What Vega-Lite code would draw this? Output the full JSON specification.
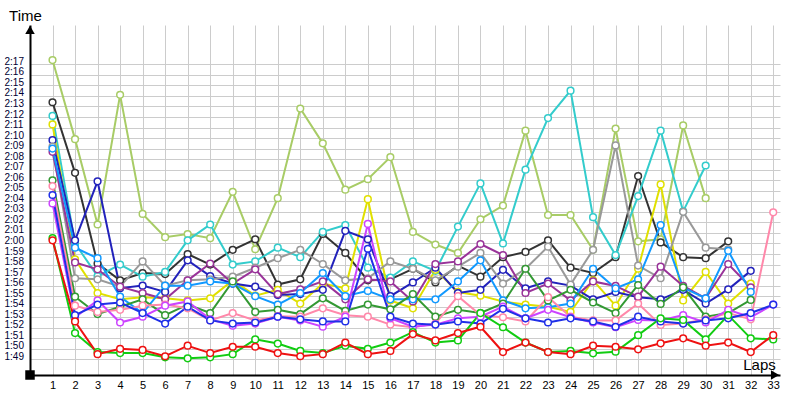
{
  "$schema": "https://vega.github.io/schema/vega-lite/v6.json",
  "width": 750,
  "height": 350,
  "autosize": {"type": "none"},
  "padding": {"left": 30, "top": 25, "right": 20, "bottom": 25},
  "background": "white",
  "config": {"view": {"stroke": null}, "font": "Liberation Sans"},
  "resolve": {"axis": {"x": "independent", "y": "independent"}},
  "datasets": {
    "laps": [
      {"s":"lg","l":1,"t":137.4},{"s":"lg","l":2,"t":129.9},{"s":"lg","l":3,"t":121.8},{"s":"lg","l":4,"t":134.1},{"s":"lg","l":5,"t":122.8},{"s":"lg","l":6,"t":120.6},{"s":"lg","l":7,"t":120.9},{"s":"lg","l":8,"t":120.5},{"s":"lg","l":9,"t":124.9},{"s":"lg","l":10,"t":119.45},{"s":"lg","l":11,"t":124.3},{"s":"lg","l":12,"t":132.8},{"s":"lg","l":13,"t":129.5},{"s":"lg","l":14,"t":125.1},{"s":"lg","l":15,"t":126.1},{"s":"lg","l":16,"t":128.2},{"s":"lg","l":17,"t":121.1},{"s":"lg","l":18,"t":119.9},{"s":"lg","l":19,"t":119.1},{"s":"lg","l":20,"t":122.3},{"s":"lg","l":21,"t":123.6},{"s":"lg","l":22,"t":130.7},{"s":"lg","l":23,"t":122.7},{"s":"lg","l":24,"t":122.7},{"s":"lg","l":25,"t":119.4},{"s":"lg","l":26,"t":130.9},{"s":"lg","l":27,"t":120.2},{"s":"lg","l":28,"t":120.4},{"s":"lg","l":29,"t":131.2},{"s":"lg","l":30,"t":124.3},
      {"s":"bk","l":1,"t":133.4},{"s":"bk","l":2,"t":126.7},{"s":"bk","l":3,"t":118.1},{"s":"bk","l":4,"t":116.5},{"s":"bk","l":5,"t":117.2},{"s":"bk","l":6,"t":117.1},{"s":"bk","l":7,"t":119.0},{"s":"bk","l":8,"t":118.0},{"s":"bk","l":9,"t":119.4},{"s":"bk","l":10,"t":120.4},{"s":"bk","l":11,"t":116.1},{"s":"bk","l":12,"t":116.6},{"s":"bk","l":13,"t":120.9},{"s":"bk","l":14,"t":119.1},{"s":"bk","l":15,"t":116.5},{"s":"bk","l":16,"t":116.6},{"s":"bk","l":17,"t":117.6},{"s":"bk","l":18,"t":116.3},{"s":"bk","l":19,"t":117.9},{"s":"bk","l":20,"t":116.85},{"s":"bk","l":21,"t":118.7},{"s":"bk","l":22,"t":119.2},{"s":"bk","l":23,"t":120.3},{"s":"bk","l":24,"t":117.7},{"s":"bk","l":25,"t":117.2},{"s":"bk","l":26,"t":118.7},{"s":"bk","l":27,"t":126.4},{"s":"bk","l":28,"t":120.1},{"s":"bk","l":29,"t":118.7},{"s":"bk","l":30,"t":118.6},{"s":"bk","l":31,"t":120.2},
      {"s":"cy","l":1,"t":132.1},{"s":"cy","l":2,"t":120.0},{"s":"cy","l":3,"t":116.9},{"s":"cy","l":4,"t":118.0},{"s":"cy","l":5,"t":116.85},{"s":"cy","l":6,"t":117.3},{"s":"cy","l":7,"t":120.3},{"s":"cy","l":8,"t":121.8},{"s":"cy","l":9,"t":118.0},{"s":"cy","l":10,"t":118.3},{"s":"cy","l":11,"t":119.6},{"s":"cy","l":12,"t":118.7},{"s":"cy","l":13,"t":121.1},{"s":"cy","l":14,"t":121.75},{"s":"cy","l":15,"t":117.7},{"s":"cy","l":16,"t":116.75},{"s":"cy","l":17,"t":118.3},{"s":"cy","l":18,"t":117.4},{"s":"cy","l":19,"t":121.6},{"s":"cy","l":20,"t":125.7},{"s":"cy","l":21,"t":120.0},{"s":"cy","l":22,"t":127.0},{"s":"cy","l":23,"t":131.9},{"s":"cy","l":24,"t":134.5},{"s":"cy","l":25,"t":122.5},{"s":"cy","l":26,"t":118.9},{"s":"cy","l":27,"t":124.5},{"s":"cy","l":28,"t":130.7},{"s":"cy","l":29,"t":123.05},{"s":"cy","l":30,"t":127.4},
      {"s":"ye","l":1,"t":131.3},{"s":"ye","l":2,"t":118.5},{"s":"ye","l":3,"t":115.3},{"s":"ye","l":4,"t":114.7},{"s":"ye","l":5,"t":114.9},{"s":"ye","l":6,"t":114.8},{"s":"ye","l":7,"t":114.6},{"s":"ye","l":8,"t":114.8},{"s":"ye","l":9,"t":116.5},{"s":"ye","l":10,"t":115.05},{"s":"ye","l":11,"t":115.6},{"s":"ye","l":12,"t":114.3},{"s":"ye","l":13,"t":116.2},{"s":"ye","l":14,"t":115.75},{"s":"ye","l":15,"t":124.2},{"s":"ye","l":16,"t":114.6},{"s":"ye","l":17,"t":113.85},{"s":"ye","l":18,"t":117.5},{"s":"ye","l":19,"t":115.4},{"s":"ye","l":20,"t":115.05},{"s":"ye","l":21,"t":114.5},{"s":"ye","l":22,"t":114.2},{"s":"ye","l":23,"t":114.0},{"s":"ye","l":24,"t":113.5},{"s":"ye","l":25,"t":116.5},{"s":"ye","l":26,"t":114.1},{"s":"ye","l":27,"t":117.6},{"s":"ye","l":28,"t":125.6},{"s":"ye","l":29,"t":114.6},{"s":"ye","l":30,"t":117.3},{"s":"ye","l":31,"t":114.3},{"s":"ye","l":32,"t":116.2},
      {"s":"db","l":1,"t":129.8},{"s":"db","l":2,"t":120.3},{"s":"db","l":3,"t":125.9},{"s":"db","l":4,"t":115.75},{"s":"db","l":5,"t":116.0},{"s":"db","l":6,"t":115.4},{"s":"db","l":7,"t":118.4},{"s":"db","l":8,"t":116.9},{"s":"db","l":9,"t":116.2},{"s":"db","l":10,"t":115.9},{"s":"db","l":11,"t":115.1},{"s":"db","l":12,"t":115.2},{"s":"db","l":13,"t":115.6},{"s":"db","l":14,"t":121.2},{"s":"db","l":15,"t":120.4},{"s":"db","l":16,"t":115.0},{"s":"db","l":17,"t":116.3},{"s":"db","l":18,"t":117.7},{"s":"db","l":19,"t":115.3},{"s":"db","l":20,"t":115.6},{"s":"db","l":21,"t":117.5},{"s":"db","l":22,"t":115.75},{"s":"db","l":23,"t":116.4},{"s":"db","l":24,"t":116.0},{"s":"db","l":25,"t":114.7},{"s":"db","l":26,"t":115.4},{"s":"db","l":27,"t":114.9},{"s":"db","l":28,"t":114.7},{"s":"db","l":29,"t":115.6},{"s":"db","l":30,"t":114.3},{"s":"db","l":31,"t":115.65},{"s":"db","l":32,"t":117.4},
      {"s":"gy","l":1,"t":129.2},{"s":"gy","l":2,"t":116.7},{"s":"gy","l":3,"t":116.6},{"s":"gy","l":4,"t":115.9},{"s":"gy","l":5,"t":118.3},{"s":"gy","l":6,"t":116.0},{"s":"gy","l":7,"t":116.5},{"s":"gy","l":8,"t":116.6},{"s":"gy","l":9,"t":116.85},{"s":"gy","l":10,"t":117.7},{"s":"gy","l":11,"t":118.6},{"s":"gy","l":12,"t":119.4},{"s":"gy","l":13,"t":118.05},{"s":"gy","l":14,"t":116.5},{"s":"gy","l":15,"t":116.7},{"s":"gy","l":16,"t":118.3},{"s":"gy","l":17,"t":117.6},{"s":"gy","l":18,"t":116.5},{"s":"gy","l":19,"t":117.8},{"s":"gy","l":20,"t":119.1},{"s":"gy","l":21,"t":116.2},{"s":"gy","l":22,"t":117.6},{"s":"gy","l":23,"t":119.7},{"s":"gy","l":24,"t":116.1},{"s":"gy","l":25,"t":119.4},{"s":"gy","l":26,"t":129.3},{"s":"gy","l":27,"t":117.9},{"s":"gy","l":28,"t":116.7},{"s":"gy","l":29,"t":123.0},{"s":"gy","l":30,"t":119.6},{"s":"gy","l":31,"t":119.45},
      {"s":"pu","l":1,"t":128.7},{"s":"pu","l":2,"t":118.2},{"s":"pu","l":3,"t":117.55},{"s":"pu","l":4,"t":115.9},{"s":"pu","l":5,"t":115.3},{"s":"pu","l":6,"t":114.7},{"s":"pu","l":7,"t":116.5},{"s":"pu","l":8,"t":118.1},{"s":"pu","l":9,"t":116.2},{"s":"pu","l":10,"t":117.55},{"s":"pu","l":11,"t":115.2},{"s":"pu","l":12,"t":115.65},{"s":"pu","l":13,"t":116.4},{"s":"pu","l":14,"t":114.7},{"s":"pu","l":15,"t":116.6},{"s":"pu","l":16,"t":116.4},{"s":"pu","l":17,"t":114.5},{"s":"pu","l":18,"t":118.05},{"s":"pu","l":19,"t":118.3},{"s":"pu","l":20,"t":119.95},{"s":"pu","l":21,"t":118.9},{"s":"pu","l":22,"t":115.3},{"s":"pu","l":23,"t":116.2},{"s":"pu","l":24,"t":114.6},{"s":"pu","l":25,"t":116.4},{"s":"pu","l":26,"t":115.97},{"s":"pu","l":27,"t":114.95},{"s":"pu","l":28,"t":117.8},{"s":"pu","l":29,"t":115.97},{"s":"pu","l":30,"t":114.8},{"s":"pu","l":31,"t":118.05},{"s":"pu","l":32,"t":115.84},
      {"s":"lb","l":1,"t":129.0},{"s":"lb","l":2,"t":119.6},{"s":"lb","l":3,"t":118.6},{"s":"lb","l":4,"t":114.95},{"s":"lb","l":5,"t":113.4},{"s":"lb","l":6,"t":116.0},{"s":"lb","l":7,"t":116.0},{"s":"lb","l":8,"t":116.4},{"s":"lb","l":9,"t":116.2},{"s":"lb","l":10,"t":115.0},{"s":"lb","l":11,"t":114.2},{"s":"lb","l":12,"t":115.3},{"s":"lb","l":13,"t":117.2},{"s":"lb","l":14,"t":115.0},{"s":"lb","l":15,"t":115.5},{"s":"lb","l":16,"t":114.7},{"s":"lb","l":17,"t":114.7},{"s":"lb","l":18,"t":114.7},{"s":"lb","l":19,"t":116.4},{"s":"lb","l":20,"t":118.4},{"s":"lb","l":21,"t":114.6},{"s":"lb","l":22,"t":113.85},{"s":"lb","l":23,"t":113.95},{"s":"lb","l":24,"t":114.3},{"s":"lb","l":25,"t":117.6},{"s":"lb","l":26,"t":115.75},{"s":"lb","l":27,"t":116.6},{"s":"lb","l":28,"t":121.75},{"s":"lb","l":29,"t":115.8},{"s":"lb","l":30,"t":114.8},{"s":"lb","l":31,"t":119.3},{"s":"lb","l":32,"t":115.4},
      {"s":"dg","l":1,"t":126.0},{"s":"dg","l":2,"t":114.95},{"s":"dg","l":3,"t":113.3},{"s":"dg","l":4,"t":114.0},{"s":"dg","l":5,"t":114.7},{"s":"dg","l":6,"t":113.2},{"s":"dg","l":7,"t":114.2},{"s":"dg","l":8,"t":113.4},{"s":"dg","l":9,"t":116.4},{"s":"dg","l":10,"t":113.5},{"s":"dg","l":11,"t":113.7},{"s":"dg","l":12,"t":113.3},{"s":"dg","l":13,"t":114.8},{"s":"dg","l":14,"t":113.6},{"s":"dg","l":15,"t":114.2},{"s":"dg","l":16,"t":113.75},{"s":"dg","l":17,"t":115.2},{"s":"dg","l":18,"t":113.05},{"s":"dg","l":19,"t":113.7},{"s":"dg","l":20,"t":113.4},{"s":"dg","l":21,"t":114.3},{"s":"dg","l":22,"t":117.6},{"s":"dg","l":23,"t":114.6},{"s":"dg","l":24,"t":115.6},{"s":"dg","l":25,"t":114.4},{"s":"dg","l":26,"t":113.4},{"s":"dg","l":27,"t":116.06},{"s":"dg","l":28,"t":114.26},{"s":"dg","l":29,"t":115.84},{"s":"dg","l":30,"t":113.05},{"s":"dg","l":31,"t":113.4},{"s":"dg","l":32,"t":114.64},
      {"s":"pk","l":1,"t":125.45},{"s":"pk","l":2,"t":114.1},{"s":"pk","l":3,"t":113.5},{"s":"pk","l":4,"t":113.7},{"s":"pk","l":5,"t":114.1},{"s":"pk","l":6,"t":114.2},{"s":"pk","l":7,"t":113.85},{"s":"pk","l":8,"t":112.7},{"s":"pk","l":9,"t":113.4},{"s":"pk","l":10,"t":112.7},{"s":"pk","l":11,"t":113.1},{"s":"pk","l":12,"t":113.05},{"s":"pk","l":13,"t":113.85},{"s":"pk","l":14,"t":113.2},{"s":"pk","l":15,"t":113.05},{"s":"pk","l":16,"t":112.3},{"s":"pk","l":17,"t":112.05},{"s":"pk","l":18,"t":112.4},{"s":"pk","l":19,"t":115.0},{"s":"pk","l":20,"t":113.2},{"s":"pk","l":21,"t":113.0},{"s":"pk","l":22,"t":112.6},{"s":"pk","l":23,"t":114.9},{"s":"pk","l":24,"t":113.05},{"s":"pk","l":25,"t":112.7},{"s":"pk","l":26,"t":112.7},{"s":"pk","l":27,"t":114.3},{"s":"pk","l":28,"t":112.27},{"s":"pk","l":29,"t":112.4},{"s":"pk","l":30,"t":112.8},{"s":"pk","l":31,"t":113.4},{"s":"pk","l":32,"t":112.8},{"s":"pk","l":33,"t":122.96},
      {"s":"vi","l":1,"t":123.8},{"s":"vi","l":2,"t":113.0},{"s":"vi","l":3,"t":114.6},{"s":"vi","l":4,"t":112.5},{"s":"vi","l":5,"t":113.05},{"s":"vi","l":6,"t":114.1},{"s":"vi","l":7,"t":114.5},{"s":"vi","l":8,"t":112.8},{"s":"vi","l":9,"t":112.2},{"s":"vi","l":10,"t":112.4},{"s":"vi","l":11,"t":113.05},{"s":"vi","l":12,"t":112.7},{"s":"vi","l":13,"t":112.1},{"s":"vi","l":14,"t":113.05},{"s":"vi","l":15,"t":121.85},{"s":"vi","l":16,"t":112.9},{"s":"vi","l":17,"t":112.1},{"s":"vi","l":18,"t":112.3},{"s":"vi","l":19,"t":112.9},{"s":"vi","l":20,"t":113.05},{"s":"vi","l":21,"t":114.0},{"s":"vi","l":22,"t":112.9},{"s":"vi","l":23,"t":113.7},{"s":"vi","l":24,"t":113.0},{"s":"vi","l":25,"t":112.5},{"s":"vi","l":26,"t":112.05},{"s":"vi","l":27,"t":112.75},{"s":"vi","l":28,"t":112.7},{"s":"vi","l":29,"t":113.2},{"s":"vi","l":30,"t":112.5},{"s":"vi","l":31,"t":113.7},{"s":"vi","l":32,"t":113.0},{"s":"vi","l":33,"t":114.2},
      {"s":"bl","l":1,"t":124.6},{"s":"bl","l":2,"t":113.2},{"s":"bl","l":3,"t":114.2},{"s":"bl","l":4,"t":114.4},{"s":"bl","l":5,"t":113.4},{"s":"bl","l":6,"t":112.4},{"s":"bl","l":7,"t":114.0},{"s":"bl","l":8,"t":112.7},{"s":"bl","l":9,"t":112.4},{"s":"bl","l":10,"t":112.5},{"s":"bl","l":11,"t":113.05},{"s":"bl","l":12,"t":112.8},{"s":"bl","l":13,"t":112.6},{"s":"bl","l":14,"t":112.6},{"s":"bl","l":15,"t":119.5},{"s":"bl","l":16,"t":113.05},{"s":"bl","l":17,"t":112.4},{"s":"bl","l":18,"t":112.3},{"s":"bl","l":19,"t":112.6},{"s":"bl","l":20,"t":112.4},{"s":"bl","l":21,"t":113.8},{"s":"bl","l":22,"t":112.9},{"s":"bl","l":23,"t":112.5},{"s":"bl","l":24,"t":112.9},{"s":"bl","l":25,"t":112.6},{"s":"bl","l":26,"t":112.1},{"s":"bl","l":27,"t":113.05},{"s":"bl","l":28,"t":112.6},{"s":"bl","l":29,"t":112.4},{"s":"bl","l":30,"t":112.7},{"s":"bl","l":31,"t":112.9},{"s":"bl","l":32,"t":113.4},{"s":"bl","l":33,"t":114.2},
      {"s":"gr","l":1,"t":120.5},{"s":"gr","l":2,"t":111.5},{"s":"gr","l":3,"t":109.7},{"s":"gr","l":4,"t":109.6},{"s":"gr","l":5,"t":109.6},{"s":"gr","l":6,"t":109.2},{"s":"gr","l":7,"t":109.1},{"s":"gr","l":8,"t":109.2},{"s":"gr","l":9,"t":109.5},{"s":"gr","l":10,"t":110.9},{"s":"gr","l":11,"t":110.5},{"s":"gr","l":12,"t":109.8},{"s":"gr","l":13,"t":109.6},{"s":"gr","l":14,"t":110.3},{"s":"gr","l":15,"t":110.0},{"s":"gr","l":16,"t":110.6},{"s":"gr","l":17,"t":111.6},{"s":"gr","l":18,"t":110.6},{"s":"gr","l":19,"t":110.8},{"s":"gr","l":20,"t":113.4},{"s":"gr","l":21,"t":112.05},{"s":"gr","l":22,"t":110.6},{"s":"gr","l":23,"t":109.7},{"s":"gr","l":24,"t":109.8},{"s":"gr","l":25,"t":109.58},{"s":"gr","l":26,"t":109.73},{"s":"gr","l":27,"t":111.3},{"s":"gr","l":28,"t":112.9},{"s":"gr","l":29,"t":112.74},{"s":"gr","l":30,"t":110.9},{"s":"gr","l":31,"t":113.2},{"s":"gr","l":32,"t":111.0},{"s":"gr","l":33,"t":110.9},
      {"s":"rd","l":1,"t":120.3},{"s":"rd","l":2,"t":112.6},{"s":"rd","l":3,"t":109.5},{"s":"rd","l":4,"t":110.0},{"s":"rd","l":5,"t":109.9},{"s":"rd","l":6,"t":109.3},{"s":"rd","l":7,"t":110.3},{"s":"rd","l":8,"t":109.6},{"s":"rd","l":9,"t":110.2},{"s":"rd","l":10,"t":110.2},{"s":"rd","l":11,"t":109.6},{"s":"rd","l":12,"t":109.3},{"s":"rd","l":13,"t":109.5},{"s":"rd","l":14,"t":110.6},{"s":"rd","l":15,"t":109.5},{"s":"rd","l":16,"t":109.8},{"s":"rd","l":17,"t":111.4},{"s":"rd","l":18,"t":110.8},{"s":"rd","l":19,"t":111.5},{"s":"rd","l":20,"t":112.1},{"s":"rd","l":21,"t":109.7},{"s":"rd","l":22,"t":110.6},{"s":"rd","l":23,"t":109.7},{"s":"rd","l":24,"t":109.5},{"s":"rd","l":25,"t":110.3},{"s":"rd","l":26,"t":110.2},{"s":"rd","l":27,"t":109.96},{"s":"rd","l":28,"t":110.53},{"s":"rd","l":29,"t":111.0},{"s":"rd","l":30,"t":110.3},{"s":"rd","l":31,"t":110.6},{"s":"rd","l":32,"t":109.7},{"s":"rd","l":33,"t":111.3}
    ],
    "marks": [
      {"k":"up","l":0,"t":140.26},
      {"k":"right","l":33.08,"t":107.52},
      {"k":"origin","l":0,"t":107.52}
    ]
  },
  "layer": [
    {
      "data": {"name": "laps"},
      "mark": {"type": "line", "strokeWidth": 2, "point": {"filled": false, "fill": "white", "size": 45, "strokeWidth": 1.5}},
      "encoding": {
        "x": {
          "field": "l", "type": "quantitative",
          "scale": {"domain": [0, 33.3], "nice": false, "zero": false},
          "axis": {
            "values": [1,2,3,4,5,6,7,8,9,10,11,12,13,14,15,16,17,18,19,20,21,22,23,24,25,26,27,28,29,30,31,32,33],
            "format": "d", "grid": true, "gridColor": "#cccccc", "gridWidth": 1,
            "domainColor": "black", "domainWidth": 2, "ticks": false, "tickSize": 0,
            "labelFontSize": 11, "labelColor": "#000000", "labelPadding": 4, "labelFlush": false, "labelOverlap": false,
            "title": "Laps", "titleX": 729, "titleY": -11, "titleFontSize": 15, "titleFontWeight": "normal",
            "titleAlign": "center", "titleBaseline": "middle", "titleColor": "#000000"
          }
        },
        "y": {
          "field": "t", "type": "quantitative",
          "scale": {"domain": [107.52, 140.73], "nice": false, "zero": false},
          "axis": {
            "values": [109,110,111,112,113,114,115,116,117,118,119,120,121,122,123,124,125,126,127,128,129,130,131,132,133,134,135,136,137],
            "labelExpr": "floor(datum.value/60) + ':' + ((datum.value % 60) < 10 ? '0' : '') + (datum.value % 60)",
            "grid": true, "gridColor": "#cccccc", "gridWidth": 1,
            "domainColor": "black", "domainWidth": 2, "ticks": false, "tickSize": 0,
            "labelFontSize": 10, "labelColor": "#000033", "labelAlign": "left", "labelPadding": 26, "labelBaseline": "alphabetic", "labelOverlap": false,
            "title": "Time", "titleAngle": 0, "titleX": -5, "titleY": -10, "titleFontSize": 15, "titleFontWeight": "normal",
            "titleAlign": "center", "titleBaseline": "middle", "titleColor": "#000000"
          }
        },
        "color": {
          "field": "s", "type": "nominal", "legend": null,
          "scale": {
            "domain": ["lg","bk","cy","ye","db","gy","pu","lb","dg","pk","vi","bl","gr","rd"],
            "range": ["#a8cc66","#333333","#33cccc","#e0e000","#2222bb","#999999","#993399","#1199ff","#339933","#ff88aa","#cc44ff","#1f2fe8","#11cc11","#ee1111"]
          }
        }
      }
    },
    {
      "data": {"name": "marks"},
      "mark": {"type": "point", "filled": true, "color": "black", "opacity": 1},
      "encoding": {
        "x": {"field": "l", "type": "quantitative", "axis": null},
        "y": {"field": "t", "type": "quantitative", "axis": null},
        "shape": {"field": "k", "type": "nominal", "legend": null, "scale": {"domain": ["up","right","origin"], "range": ["triangle-up","triangle-right","square"]}},
        "size": {"field": "k", "type": "nominal", "legend": null, "scale": {"domain": ["up","right","origin"], "range": [90, 90, 16]}}
      }
    }
  ]
}
